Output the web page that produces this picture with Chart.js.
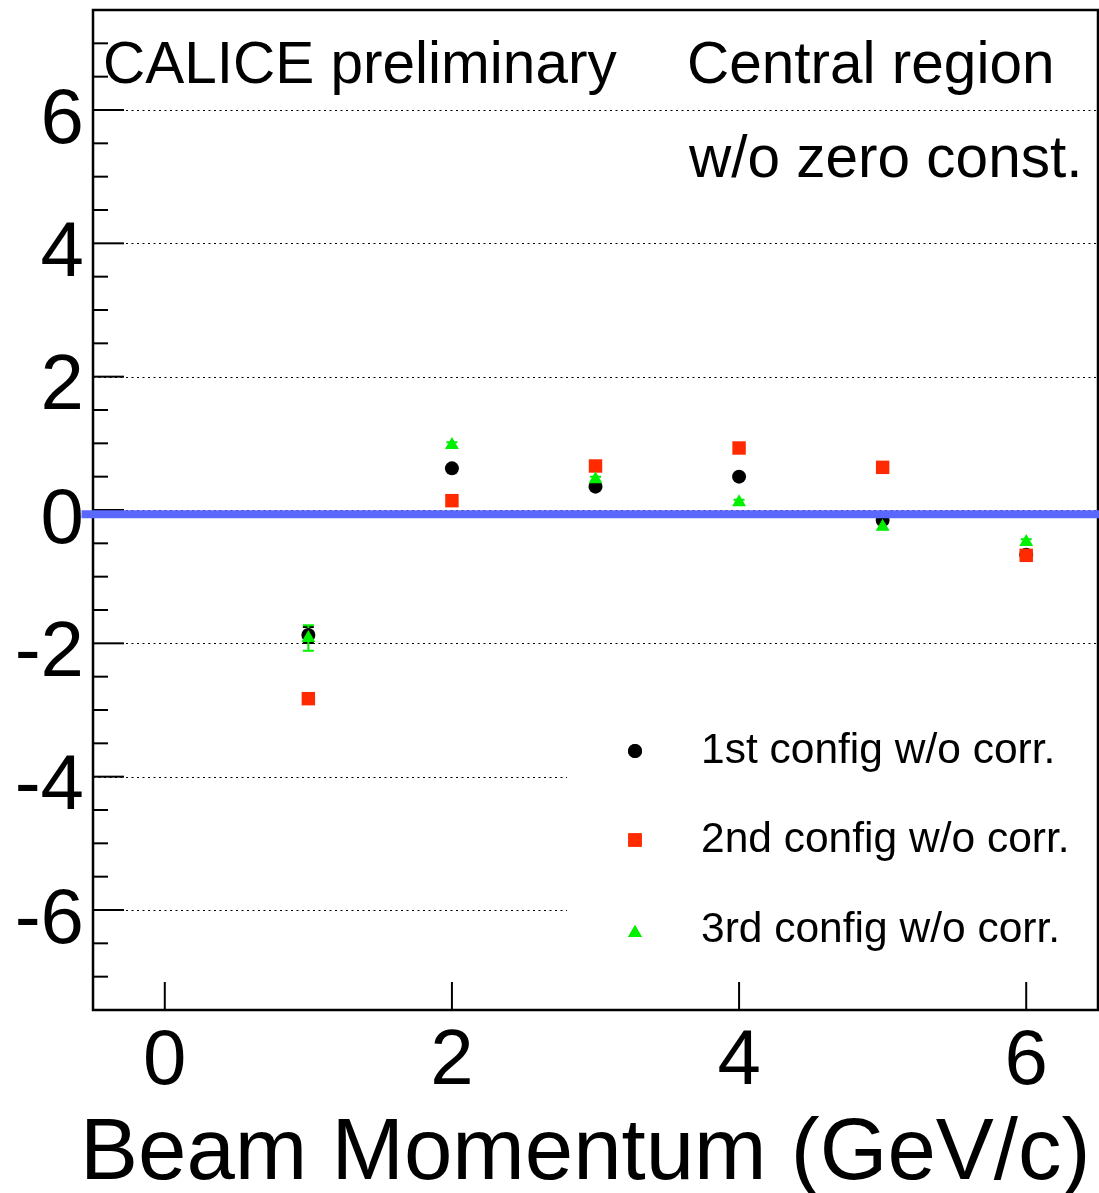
<!DOCTYPE html>
<html>
<head>
<meta charset="utf-8">
<script src="https://cdn.jsdelivr.net/npm/chart.js@4.4.0/dist/chart.umd.min.js"></script>
<style>
html,body{margin:0;padding:0;background:#fff;overflow:hidden;}
#wrap{width:1099px;height:1193px;position:relative;}
</style>
</head>
<body>
<div id="wrap"><canvas id="c" width="1099" height="1193"></canvas></div>
<script>
// ---- data ----
const momenta = [1, 2, 3, 4, 5, 6];
const config1 = [-1.875, 0.625, 0.35, 0.50, -0.15, -0.67];
const config2 = [-2.83, 0.14, 0.66, 0.93, 0.64, -0.68];
const config3 = [-1.92, 0.975, 0.46, 0.115, -0.25, -0.48];
const config1Err = [0.12, 0.04, 0.04, 0.04, 0.04, 0.04];
const config2Err = [0.05, 0.04, 0.04, 0.04, 0.04, 0.04];
const config3Err = [0.19, 0.04, 0.04, 0.04, 0.04, 0.04];
const seriesLabels = ['1st config w/o corr.', '2nd config w/o corr.', '3rd config w/o corr.'];
const xTickValues = [0, 2, 4, 6];
const yTickValues = [-6, -4, -2, 0, 2, 4, 6];
const zeroLineX = [-0.58, 6.6];
const zeroLineY = [-0.065, -0.065];
const xTitle = 'Beam Momentum (GeV/c)';
const annotationLeft = 'CALICE preliminary';
const annotationRight = ['Central region', 'w/o zero const.'];

const FONT = "'Liberation Sans', Arial, Helvetica, sans-serif";
const BLACK = '#000000', RED = '#ff2a00', GREEN = '#00f000', BLUE = '#5b68ff';

function pts(xs, ys) { return xs.map((x, i) => ({x: x, y: ys[i]})); }

const errs = [config1Err, config2Err, config3Err];
const cols = [BLACK, RED, GREEN];

function zeroPad(s) { s.paddingTop = 0; s.paddingBottom = 0; s.paddingLeft = 0; s.paddingRight = 0; }

const decorPlugin = {
  id: 'decor',
  beforeDatasetsDraw(chart) {
    const ctx = chart.ctx, a = chart.chartArea;
    const xs = chart.scales.x, ys = chart.scales.y;
    ctx.save();
    // dotted grid lines
    ctx.strokeStyle = '#000';
    ctx.lineWidth = 1.2;
    ctx.setLineDash([2, 3.5]);
    yTickValues.forEach(v => {
      const p = Math.round(ys.getPixelForValue(v)) + 0.5;
      ctx.beginPath(); ctx.moveTo(a.left, p); ctx.lineTo(a.right, p); ctx.stroke();
    });
    ctx.setLineDash([]);
    // legend box (white, covers gridlines)
    ctx.fillStyle = '#fff';
    ctx.fillRect(567, 705, a.right - 567 - 2, 275);
    // frame
    ctx.strokeStyle = '#000';
    ctx.lineWidth = 2.5;
    ctx.strokeRect(a.left, a.top, a.right - a.left, a.bottom - a.top);
    // y ticks (major + minor)
    ctx.lineWidth = 2;
    for (let v = -7; v <= 7.001; v += 0.5) {
      const p = ys.getPixelForValue(v);
      const major = yTickValues.some(t => Math.abs(t - v) < 1e-6);
      ctx.beginPath(); ctx.moveTo(a.left, p); ctx.lineTo(a.left + (major ? 31 : 15), p); ctx.stroke();
    }
    // x ticks
    xTickValues.forEach(v => {
      const p = xs.getPixelForValue(v);
      ctx.beginPath(); ctx.moveTo(p, a.bottom); ctx.lineTo(p, a.bottom - 28); ctx.stroke();
    });
    // error bars
    [config1, config2, config3].forEach((ser, si) => {
      ctx.strokeStyle = cols[si];
      ctx.lineWidth = 2;
      ser.forEach((y, i) => {
        const px = xs.getPixelForValue(momenta[i]);
        const y1 = ys.getPixelForValue(y + errs[si][i]);
        const y2 = ys.getPixelForValue(y - errs[si][i]);
        ctx.beginPath();
        ctx.moveTo(px, y1); ctx.lineTo(px, y2);
        ctx.moveTo(px - 5.5, y1); ctx.lineTo(px + 5.5, y1);
        ctx.moveTo(px - 5.5, y2); ctx.lineTo(px + 5.5, y2);
        ctx.stroke();
      });
    });
    ctx.restore();
  },
  afterDraw(chart) {
    const ctx = chart.ctx;
    ctx.save();
    ctx.fillStyle = '#000';
    ctx.textBaseline = 'alphabetic';
    ctx.textAlign = 'left';
    ctx.font = '58.5px ' + FONT;
    ctx.fillText(annotationLeft, 103, 83);
    ctx.fillText(annotationRight[0], 687, 83);
    ctx.fillText(annotationRight[1], 689, 177);
    // x title
    ctx.font = '87px ' + FONT;
    ctx.fillText(xTitle, 80, 1179);
    // legend
    const styles = ['circle', 'rect', 'triangle'];
    const radii = [7, 9.5, 8];
    const rowY = [751, 840, 931];
    const rowBase = [763, 852, 942];
    ctx.font = '42.5px ' + FONT;
    seriesLabels.forEach((lab, i) => {
      ctx.fillStyle = cols[i];
      Chart.helpers.drawPoint(ctx, {pointStyle: styles[i], radius: radii[i], rotation: 0, borderWidth: 0}, 635, rowY[i] + (i === 2 ? 2 : 0));
      ctx.fill();
      ctx.fillStyle = '#000';
      ctx.fillText(lab, 701, rowBase[i]);
    });
    ctx.restore();
  }
};

new Chart(document.getElementById('c'), {
  type: 'scatter',
  data: {
    datasets: [
      { label: 'zero', type: 'line', data: pts(zeroLineX, zeroLineY), borderColor: BLUE, borderWidth: 8,
        pointRadius: 0, showLine: true, fill: false, clip: false, order: 0 },
      { label: seriesLabels[2], data: pts(momenta, config3), pointStyle: 'triangle', pointRadius: 8,
        backgroundColor: GREEN, borderWidth: 0, order: 1 },
      { label: seriesLabels[1], data: pts(momenta, config2), pointStyle: 'rect', pointRadius: 9.5,
        backgroundColor: RED, borderWidth: 0, order: 2 },
      { label: seriesLabels[0], data: pts(momenta, config1), pointStyle: 'circle', pointRadius: 7,
        backgroundColor: BLACK, borderWidth: 0, order: 3 }
    ]
  },
  options: {
    responsive: false,
    animation: false,
    events: [],
    layout: { autoPadding: false, padding: { left: 0, right: 1, top: 10, bottom: 0 } },
    plugins: { legend: { display: false }, tooltip: { enabled: false } },
    elements: { point: { hoverRadius: 0 } },
    scales: {
      x: {
        type: 'linear', min: -0.5, max: 6.5,
        afterBuildTicks: s => { s.ticks = xTickValues.map(v => ({value: v})); },
        afterFit: s => { s.height = 183; zeroPad(s); },
        grid: { display: false, drawTicks: false },
        border: { display: false },
        ticks: { color: '#000', font: { family: FONT, size: 78 }, padding: 6, maxRotation: 0, autoSkip: false }
      },
      y: {
        type: 'linear', min: -7.5, max: 7.5,
        afterBuildTicks: s => { s.ticks = yTickValues.map(v => ({value: v})); },
        afterFit: s => { s.width = 93; zeroPad(s); },
        grid: { display: false, drawTicks: false },
        border: { display: false },
        ticks: { color: '#000', font: { family: FONT, size: 78 }, padding: 9, labelOffset: 11, autoSkip: false }
      }
    }
  },
  plugins: [decorPlugin]
});
</script>
</body>
</html>
